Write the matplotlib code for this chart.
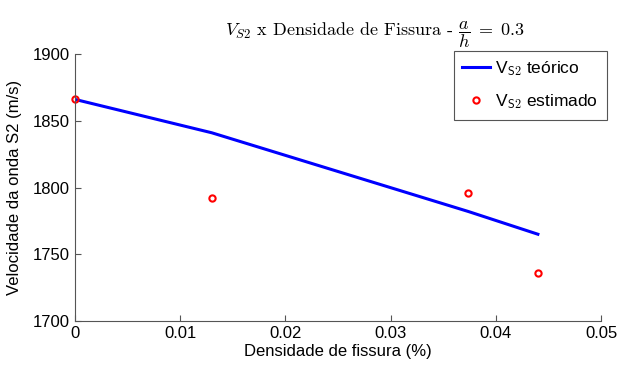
import numpy as np
import matplotlib.pyplot as plt

plt.rcParams['mathtext.fontset'] = 'cm'
plt.rcParams['font.family'] = ['Liberation Sans', 'DejaVu Sans']

# curva teorica e pontos estimados
dens_teo = [0.0, 0.013, 0.0374, 0.044]
vel_teo = [1866, 1841, 1782, 1765]
dens_est = [0.0, 0.013, 0.0374, 0.044]
vel_est = [1866, 1792, 1796, 1736]

fig = plt.figure(figsize=(6.21, 3.73), dpi=100)
ax = fig.add_axes([0.1208, 0.1394, 0.847, 0.7158])

ax.plot(dens_teo, vel_teo, color='#0000ff', linewidth=2.2, label=r'V$_{\mathsf{S2}}$ teórico')
ax.plot(dens_est, vel_est, color='r', marker='o', markersize=4.5, markeredgewidth=1.5,
        fillstyle='none', linestyle='none', label=r'V$_{\mathsf{S2}}$ estimado', clip_on=False)

ax.set_xlim(0, 0.05)
ax.set_ylim(1700, 1900)
ax.set_xticks([0, 0.01, 0.02, 0.03, 0.04, 0.05])
ax.set_xticklabels(['0', '0.01', '0.02', '0.03', '0.04', '0.05'])
ax.set_yticks([1700, 1750, 1800, 1850, 1900])
ax.tick_params(direction='in', labelsize=12, length=4, color='#555555')
for s in ['top', 'right']:
    ax.spines[s].set_visible(False)
for s in ['left', 'bottom']:
    ax.spines[s].set_color('#555555')

ax.set_xlabel('Densidade de fissura (%)', fontsize=12, labelpad=2)
ax.set_ylabel('Velocidade da onda S2 (m/s)', fontsize=12, labelpad=8)
ax.set_title(r'$V_{S2}$ x Densidade de Fissura - $\dfrac{a}{h}\;=\;0.3$',
             fontsize=13, family='cmr10', pad=13, x=0.57)

leg = ax.legend(loc='upper right', fontsize=12.5, fancybox=False, framealpha=1,
                edgecolor='#555555', handlelength=1.6, handletextpad=0.3,
                borderaxespad=-0.2, labelspacing=0.8, borderpad=0.5,
                bbox_to_anchor=(1.005, 1.0))
leg.get_frame().set_linewidth(0.8)

plt.savefig('out.png', dpi=100)
